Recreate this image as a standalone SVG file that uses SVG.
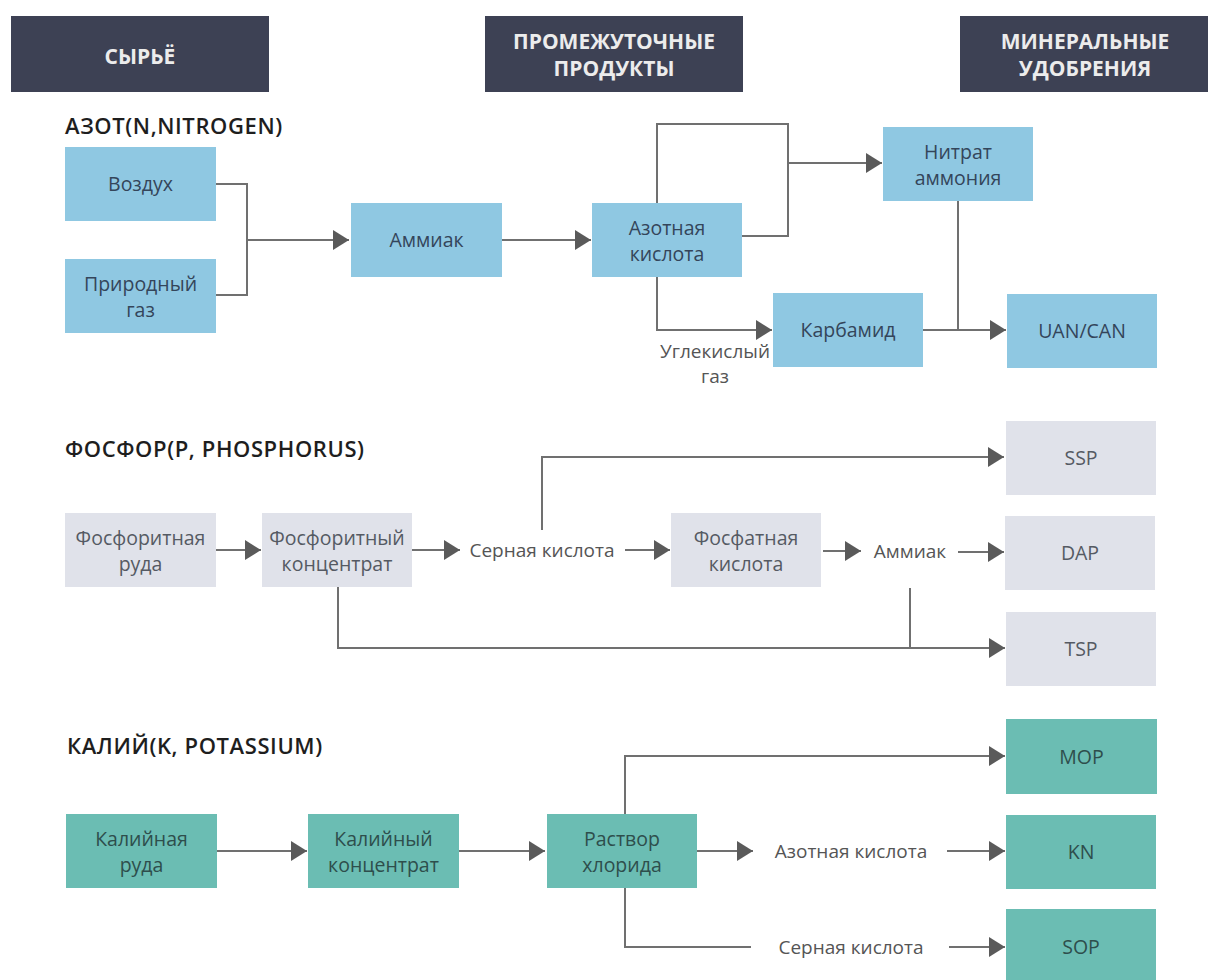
<svg xmlns="http://www.w3.org/2000/svg" width="1208" height="980" viewBox="0 0 1208 980">
<defs>
<marker id="ah" markerUnits="userSpaceOnUse" markerWidth="17" markerHeight="21" refX="16" refY="10" orient="auto"><path d="M0,0 L16,10 L0,20 Z" fill="#5a5a5a"/></marker>
<style>
.hdr{fill:#3d4154}
.ht{font-family:"Open Sans","Liberation Sans",sans-serif;font-weight:700;font-size:21px;fill:#ececec;text-anchor:middle}
.ttl{font-family:"Open Sans","Liberation Sans",sans-serif;font-weight:600;font-size:22px;letter-spacing:0.6px;fill:#1e1e1e}
.n{fill:#8fc8e2}
.p{fill:#e0e2ea}
.k{fill:#6bbdb3}
.t{font-family:"Open Sans","Liberation Sans",sans-serif;font-size:19.5px;text-anchor:middle}
.tn{fill:#34455a}
.tp{fill:#555a63}
.tk{fill:#2e4e4c}
.lbl{font-family:"Open Sans","Liberation Sans",sans-serif;font-size:19px;fill:#555;text-anchor:middle}
.c{fill:none;stroke:#707070;stroke-width:2}
</style>
</defs>
<rect width="1208" height="980" fill="#ffffff"/>

<g id="headers">
<g id="h-raw"><rect class="hdr" x="11" y="16" width="258" height="76"/><text class="ht" x="140" y="64">СЫРЬЁ</text></g>
<g id="h-mid"><rect class="hdr" x="485" y="16" width="258" height="76"/><text class="ht" x="614" y="49">ПРОМЕЖУТОЧНЫЕ</text><text class="ht" x="614" y="76">ПРОДУКТЫ</text></g>
<g id="h-min"><rect class="hdr" x="960" y="16" width="260" height="76"/><text class="ht" x="1085" y="49">МИНЕРАЛЬНЫЕ</text><text class="ht" x="1085" y="76">УДОБРЕНИЯ</text></g>
</g>

<text class="ttl" x="65" y="134">АЗОТ(N,NITROGEN)</text>
<text class="ttl" x="65" y="457">ФОСФОР(P, PHOSPHORUS)</text>
<text class="ttl" x="67" y="754">КАЛИЙ(K, POTASSIUM)</text>

<g id="connectors">
<path class="c" d="M216,184 H247 V295 H216"/>
<path class="c" d="M247,240 H349" marker-end="url(#ah)"/>
<path class="c" d="M502,240 H591" marker-end="url(#ah)"/>
<path class="c" d="M657,203 V124 H788 V236 H742"/>
<path class="c" d="M788,163 H882" marker-end="url(#ah)"/>
<path class="c" d="M657,277 V330 H772" marker-end="url(#ah)"/>
<path class="c" d="M923,330 H1006" marker-end="url(#ah)"/>
<path class="c" d="M958,201 V330"/>

<path class="c" d="M216,550 H261" marker-end="url(#ah)"/>
<path class="c" d="M412,550 H460" marker-end="url(#ah)"/>
<path class="c" d="M542,530 V457 H1004" marker-end="url(#ah)"/>
<path class="c" d="M625,550 H670" marker-end="url(#ah)"/>
<path class="c" d="M823,551 H861" marker-end="url(#ah)"/>
<path class="c" d="M958,552 H1004" marker-end="url(#ah)"/>
<path class="c" d="M338,587 V648 H1005" marker-end="url(#ah)"/>
<path class="c" d="M910,588 V648"/>

<path class="c" d="M217,851 H307" marker-end="url(#ah)"/>
<path class="c" d="M459,851 H545" marker-end="url(#ah)"/>
<path class="c" d="M625,814 V756 H1005" marker-end="url(#ah)"/>
<path class="c" d="M697,851 H753" marker-end="url(#ah)"/>
<path class="c" d="M947,851 H1005" marker-end="url(#ah)"/>
<path class="c" d="M625,888 V947 H751"/>
<path class="c" d="M949,947 H1005" marker-end="url(#ah)"/>

<text class="lbl" x="715" y="358">Углекислый</text>
<text class="lbl" x="715" y="383">газ</text>
<text class="lbl" x="542" y="557">Серная кислота</text>
<text class="lbl" x="910" y="558">Аммиак</text>
<text class="lbl" x="851" y="858">Азотная кислота</text>
<text class="lbl" x="851" y="954">Серная кислота</text>
</g>

<g id="n-air"><rect class="n" x="65" y="147" width="151" height="74"/><text class="t tn" x="140.5" y="191">Воздух</text></g>
<g id="n-gas"><rect class="n" x="65" y="259" width="151" height="74"/><text class="t tn" x="140.5" y="291">Природный</text><text class="t tn" x="140.5" y="317">газ</text></g>
<g id="n-ammonia"><rect class="n" x="351" y="203" width="151" height="74"/><text class="t tn" x="426.5" y="247">Аммиак</text></g>
<g id="n-nitric"><rect class="n" x="592" y="203" width="150" height="74"/><text class="t tn" x="667" y="235">Азотная</text><text class="t tn" x="667" y="261">кислота</text></g>
<g id="n-an"><rect class="n" x="883" y="127" width="150" height="74"/><text class="t tn" x="958" y="159">Нитрат</text><text class="t tn" x="958" y="185">аммония</text></g>
<g id="n-urea"><rect class="n" x="773" y="293" width="150" height="74"/><text class="t tn" x="848" y="337">Карбамид</text></g>
<g id="n-uan"><rect class="n" x="1007" y="294" width="150" height="74"/><text class="t tn" x="1082" y="338">UAN/CAN</text></g>

<g id="p-ore"><rect class="p" x="65" y="513" width="151" height="74"/><text class="t tp" x="140.5" y="545">Фосфоритная</text><text class="t tp" x="140.5" y="571">руда</text></g>
<g id="p-conc"><rect class="p" x="262" y="513" width="150" height="74"/><text class="t tp" x="337" y="545">Фосфоритный</text><text class="t tp" x="337" y="571">концентрат</text></g>
<g id="p-acid"><rect class="p" x="671" y="513" width="150" height="74"/><text class="t tp" x="746" y="545">Фосфатная</text><text class="t tp" x="746" y="571">кислота</text></g>
<g id="p-ssp"><rect class="p" x="1006" y="421" width="150" height="74"/><text class="t tp" x="1081" y="465">SSP</text></g>
<g id="p-dap"><rect class="p" x="1005" y="516" width="150" height="74"/><text class="t tp" x="1080" y="560">DAP</text></g>
<g id="p-tsp"><rect class="p" x="1006" y="612" width="150" height="74"/><text class="t tp" x="1081" y="656">TSP</text></g>

<g id="k-ore"><rect class="k" x="66" y="814" width="151" height="74"/><text class="t tk" x="141.5" y="846">Калийная</text><text class="t tk" x="141.5" y="872">руда</text></g>
<g id="k-conc"><rect class="k" x="308" y="814" width="151" height="74"/><text class="t tk" x="383.5" y="846">Калийный</text><text class="t tk" x="383.5" y="872">концентрат</text></g>
<g id="k-sol"><rect class="k" x="547" y="814" width="150" height="74"/><text class="t tk" x="622" y="846">Раствор</text><text class="t tk" x="622" y="872">хлорида</text></g>
<g id="k-mop"><rect class="k" x="1006" y="719" width="151" height="75"/><text class="t tk" x="1081.5" y="764">MOP</text></g>
<g id="k-kn"><rect class="k" x="1006" y="815" width="150" height="74"/><text class="t tk" x="1081" y="859">KN</text></g>
<g id="k-sop"><rect class="k" x="1006" y="909" width="150" height="74"/><text class="t tk" x="1081" y="954">SOP</text></g>
</svg>
